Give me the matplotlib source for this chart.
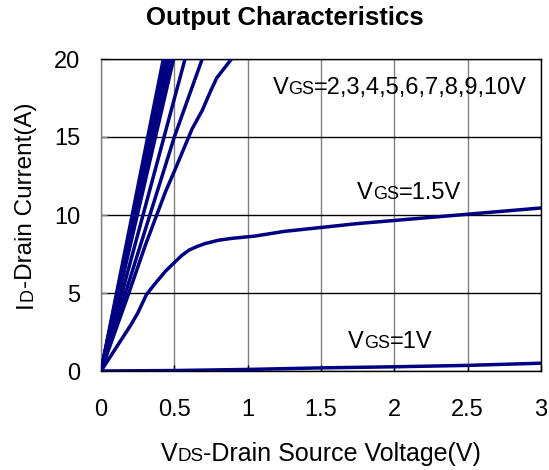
import matplotlib
matplotlib.use('Agg')
import matplotlib.pyplot as plt
from matplotlib.transforms import IdentityTransform

plt.rcParams['font.family'] = ['Liberation Sans', 'DejaVu Sans']

# ---------------- data ----------------
x_ticks = [0, 0.5, 1, 1.5, 2, 2.5, 3]
x_tick_labels = ['0', '0.5', '1', '1.5', '2', '2.5', '3']
y_ticks = [0, 5, 10, 15, 20]
y_tick_labels = ['0', '5', '10', '15', '20']

# VGS = 10 .. 5 V : nearly straight lines reaching 20 A
vds_10v = [0.0, 0.425]; id_10v = [0.0, 20.0]
vds_9v = [0.0, 0.44];   id_9v = [0.0, 20.0]
vds_8v = [0.0, 0.455];  id_8v = [0.0, 20.0]
vds_7v = [0.0, 0.47];   id_7v = [0.0, 20.0]
vds_6v = [0.0, 0.482];  id_6v = [0.0, 20.0]
vds_5v = [0.0, 0.495];  id_5v = [0.0, 20.0]
vds_4v = [0.0, 0.573];  id_4v = [0.0, 20.0]
vds_3v = [0.0, 0.5, 0.69]; id_3v = [0.0, 15.0, 20.0]
vds_2v = [0.0, 0.19, 0.3, 0.44, 0.5, 0.62, 0.69, 0.75, 0.79, 0.89]
id_2v = [0.0, 5.0, 8.0, 11.5, 12.8, 15.5, 16.7, 18.0, 18.8, 20.0]

vds_1p5v = [0, 0.1, 0.2, 0.25, 0.31, 0.36, 0.44, 0.5, 0.55, 0.6, 0.66, 0.71,
            0.8, 0.89, 1.05, 1.25, 1.5, 1.75, 2.0, 2.25, 2.5, 2.75, 3.0]
id_1p5v = [0, 1.45, 2.9, 3.7, 4.9, 5.5, 6.4, 6.95, 7.4, 7.75, 8.0, 8.17,
           8.38, 8.5, 8.65, 8.95, 9.2, 9.45, 9.65, 9.85, 10.05, 10.25, 10.45]

vds_1v = [0, 0.5, 1.0, 1.5, 2.0, 2.5, 3.0]
id_1v = [0, 0.03, 0.1, 0.2, 0.27, 0.36, 0.5]

curves = [(vds_10v, id_10v), (vds_9v, id_9v), (vds_8v, id_8v), (vds_7v, id_7v),
          (vds_6v, id_6v), (vds_5v, id_5v), (vds_4v, id_4v), (vds_3v, id_3v),
          (vds_2v, id_2v), (vds_1p5v, id_1p5v), (vds_1v, id_1v)]

line_color = '#000080'

# ---------------- figure ----------------
W, H = 549, 470
fig = plt.figure(figsize=(W / 100, H / 100), dpi=100)
ax = fig.add_axes([101 / W, 1 - 371 / H, 440 / W, 312 / H])

for vx, iy in curves:
    ax.plot(vx, iy, color=line_color, lw=2.5, solid_capstyle='round',
            solid_joinstyle='round', zorder=3)

ax.set_xlim(0, 3)
ax.set_ylim(0, 20)
ax.set_xticks(x_ticks)
ax.set_xticklabels(x_tick_labels)
ax.set_yticks(y_ticks)
ax.set_yticklabels(y_tick_labels)
ax.tick_params(axis='x', direction='in', length=4, width=1, color='black',
               pad=20.5, labelsize=17)
ax.tick_params(axis='y', direction='in', length=4, width=1, color='#808080',
               pad=15, labelsize=17)
ax.xaxis.grid(True, color='#808080', lw=1)
ax.yaxis.grid(True, color='black', lw=1)
ax.set_axisbelow(True)
for s in ['top', 'right', 'bottom']:
    ax.spines[s].set_color('black')
    ax.spines[s].set_linewidth(1)
ax.spines['left'].set_color('#808080')
ax.spines['left'].set_linewidth(1)

renderer = fig.canvas.get_renderer()


def rich_text(x_px, y_px, pieces, rotation=0, align='left', weight='normal'):
    """pieces: list of (string, fontsize). x_px,y_px: display coords of baseline."""
    texts = []
    for s, size in pieces:
        t = fig.text(0, 0, s, fontsize=size, rotation=rotation,
                     rotation_mode='anchor', ha='left', va='baseline',
                     weight=weight, transform=IdentityTransform(), zorder=4)
        texts.append(t)
    lengths = []
    for t in texts:
        bb = t.get_window_extent(renderer)
        lengths.append(bb.width if rotation == 0 else bb.height)
    total = sum(lengths)
    pos = -total / 2 if align == 'center' else 0
    for t, L in zip(texts, lengths):
        if rotation == 0:
            t.set_position((x_px + pos, y_px))
        else:
            t.set_position((x_px, y_px + pos))
        pos += L
    return texts


def img(x, y):
    return x, H - y


# title
rich_text(*img(285, 25), [('Output Characteristics', 18.5)], align='center', weight='bold')
# x label
rich_text(*img(321, 461), [('V', 18), ('DS', 13.5), ('-Drain Source Voltage(V)', 18)], align='center')
# y label
rich_text(32, H - 205, [('I', 17.5), ('D', 13), ('-Drain Current(A)', 17.5)], rotation=90, align='center')


def data_px(v, i):
    return ax.transData.transform((v, i))


px, py = data_px(1.17, 17.76)
rich_text(px, py, [('V', 17), ('GS', 13), ('=2,3,4,5,6,7,8,9,10V', 17)])
px, py = data_px(1.745, 11.0)
rich_text(px, py, [('V', 17), ('GS', 13), ('=1.5V', 17)])
px, py = data_px(1.684, 1.47)
rich_text(px, py, [('V', 17), ('GS', 13), ('=1V', 17)])

fig.savefig('out.png', dpi=100)
